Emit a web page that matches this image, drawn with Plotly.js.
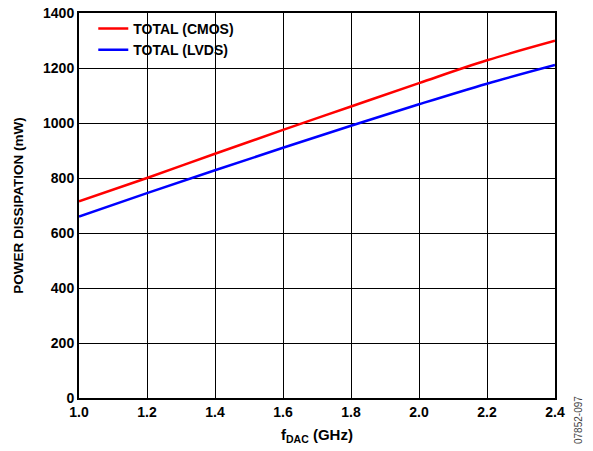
<!DOCTYPE html>
<html><head><meta charset="utf-8">
<script src="https://cdn.plot.ly/plotly-3.0.1.min.js"></script>
<style>body{margin:0;background:#fff}#c{width:593px;height:451px}</style>
</head><body><div id="c"></div>
<script>
const freqGHz = [1.0, 1.2, 1.4, 1.6, 1.8, 2.0, 2.2, 2.4];
const cmosPower = [715, 800, 888, 975, 1060, 1145, 1228, 1299];
const lvdsPower = [660, 745, 828, 910, 990, 1068, 1143, 1211];
const xTicks = [1.0, 1.2, 1.4, 1.6, 1.8, 2.0, 2.2, 2.4];
const yTicks = [0, 200, 400, 600, 800, 1000, 1200, 1400];

const fam = 'Liberation Sans, Arial, sans-serif';
const b = s => '<b>' + s + '</b>';
const traces = [
  {x: freqGHz, y: cmosPower, name: b('TOTAL (CMOS)'), mode: 'lines', line: {color: '#ff0000', width: 2.5, shape: 'spline'}},
  {x: freqGHz, y: lvdsPower, name: b('TOTAL (LVDS)'), mode: 'lines', line: {color: '#0000ff', width: 2.5, shape: 'spline'}}
];
const layout = {
  width: 593, height: 451,
  margin: {l: 79, r: 38, t: 13, b: 53},
  paper_bgcolor: '#fff', plot_bgcolor: '#fff',
  font: {family: fam, size: 14, color: '#000'},
  showlegend: true,
  legend: {x: 0.03, y: 1.0, xanchor: 'left', yanchor: 'top', bgcolor: 'rgba(0,0,0,0)',
    font: {family: fam, size: 14, color: '#000'}, tracegroupgap: 0, itemwidth: 30},
  xaxis: {range: [1.0, 2.4], tickvals: xTicks, ticktext: xTicks.map(v => b(v.toFixed(1))),
    showgrid: true, gridcolor: '#000', gridwidth: 1, showline: true, linecolor: '#000', linewidth: 2, mirror: true,
    ticks: '', zeroline: false, tickfont: {family: fam, size: 14},
    title: {text: b('f<sub>DAC</sub> (GHz)'), font: {family: fam, size: 15}, standoff: 11}},
  yaxis: {range: [0, 1400], tickvals: yTicks, ticktext: yTicks.map(v => b(String(v))),
    showgrid: true, gridcolor: '#000', gridwidth: 1, showline: true, linecolor: '#000', linewidth: 2, mirror: true,
    ticks: '', zeroline: false, tickfont: {family: fam, size: 14},
    title: {text: b('POWER DISSIPATION (mW)'), font: {family: fam, size: 13.5}, standoff: 16}},
  annotations: [{text: '07852-097', xref: 'paper', yref: 'paper', x: 1, y: 0, xshift: 23, yshift: 4,
    textangle: -90, showarrow: false, xanchor: 'center', yanchor: 'top',
    font: {family: fam, size: 10, color: '#444'}}]
};
Plotly.newPlot('c', traces, layout, {displayModeBar: false, staticPlot: true});
</script></body></html>
